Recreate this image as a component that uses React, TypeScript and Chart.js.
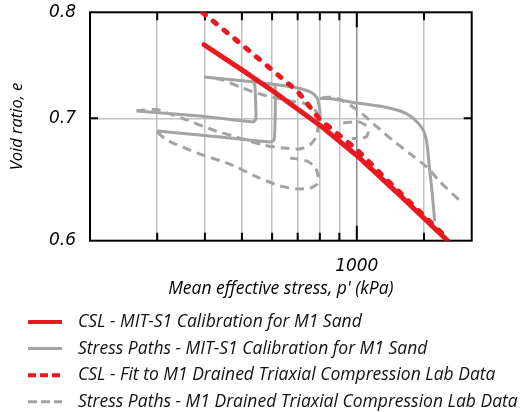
import { useEffect, useRef } from 'react';
import { Chart, registerables } from 'chart.js';

Chart.register(...registerables);

// Critical state lines (mean effective stress p' in kPa, void ratio e)
const cslModelP = [398, 500, 600, 800, 1000, 1300, 1730];
const cslModelE = [0.768, 0.744, 0.725, 0.694, 0.668, 0.635, 0.6];

const cslLabP = [394, 500, 600, 700, 800, 1000, 1170, 1680];
const cslLabE = [0.8, 0.768, 0.744, 0.724, 0.699, 0.673, 0.651, 0.605];

// MIT-S1 simulated stress paths
const modelPathAP = [265, 388, 535, 544, 541, 538];
const modelPathAE = [0.7065, 0.7021, 0.6968, 0.6994, 0.7291, 0.7319];

const modelPathBP = [300, 425, 592, 607, 611, 611, 607];
const modelPathBE = [0.6889, 0.6841, 0.6794, 0.6811, 0.6985, 0.7291, 0.7305];

const modelPathCP = [398, 465, 541, 611, 681, 732, 764, 787, 796, 801, 801];
const modelPathCE = [0.7374, 0.735, 0.7328, 0.7305, 0.7282, 0.7254, 0.7227, 0.7182, 0.7118, 0.7056, 0.6976];

const modelPathDP = [801, 867, 978, 1172, 1299, 1380, 1448, 1501, 1529, 1547, 1573, 1600];
const modelPathDE = [0.7177, 0.7173, 0.7141, 0.7103, 0.7065, 0.7021, 0.6959, 0.688, 0.6769, 0.66, 0.6396, 0.615];

// Drained triaxial compression lab stress paths
const labPathAP = [265, 300, 324, 359, 420, 494, 568, 641, 710, 754, 782, 792, 792, 768, 723, 669, 582, 535, 494, 446, 422];
const labPathAE = [0.7069, 0.7078, 0.7039, 0.6985, 0.6898, 0.6828, 0.6769, 0.6743, 0.6735, 0.6769, 0.6837, 0.6924, 0.7021, 0.7101, 0.7136, 0.7155, 0.72, 0.7236, 0.7282, 0.7346, 0.736];

const labPathBP = [300, 318, 381, 465, 548, 629, 697, 754, 787, 792, 778, 741, 669];
const labPathBE = [0.688, 0.6811, 0.6701, 0.6608, 0.6501, 0.6428, 0.6404, 0.6412, 0.6444, 0.6509, 0.6584, 0.6633, 0.6659];

const labPathCP = [811, 867, 921, 1020, 1130, 1245, 1380, 1529, 1654, 1877];
const labPathCE = [0.7182, 0.7191, 0.7155, 0.7056, 0.6924, 0.6806, 0.6693, 0.6581, 0.6461, 0.63];

const labPathDP = [921, 1008, 1051, 1071, 1061, 1031, 972];
const labPathDE = [0.6959, 0.697, 0.6942, 0.6883, 0.6841, 0.6826, 0.6824];

// Axis settings
const xMin = 200;
const xMax = 2000;
const xLabelled = [1000];
const yTicks = [0.6, 0.7, 0.8];
const yGridValues = [0.7];

const legendLabels = [
  'CSL - MIT-S1 Calibration for M1 Sand',
  'Stress Paths - MIT-S1 Calibration for M1 Sand',
  'CSL - Fit to M1 Drained Triaxial Compression Lab Data',
  'Stress Paths - M1 Drained Triaxial Compression Lab Data',
];

const RED = '#e8191f';
const GRAY = '#a3a3a3';

const styles = [
  { color: RED, width: 5, dash: [] as number[], cap: 'round' as CanvasLineCap },
  { color: GRAY, width: 3, dash: [] as number[], cap: 'butt' as CanvasLineCap },
  { color: RED, width: 5, dash: [4, 10], cap: 'round' as CanvasLineCap },
  { color: GRAY, width: 3, dash: [9, 6], cap: 'butt' as CanvasLineCap },
];

const zip = (p: number[], e: number[]) => p.map((x, i) => ({ x, y: e[i] }));

function series(p: number[], e: number[], styleIndex: number, order: number, tension = 0) {
  const s = styles[styleIndex];
  return {
    data: zip(p, e),
    showLine: true,
    borderColor: s.color,
    backgroundColor: s.color,
    borderWidth: s.width,
    borderDash: s.dash,
    borderCapStyle: s.cap,
    borderJoinStyle: 'round' as CanvasLineJoin,
    pointRadius: 0,
    pointHoverRadius: 0,
    tension,
    order,
  };
}

const framePlugin = {
  id: 'plotFrame',
  beforeDatasetsDraw(chart: any) {
    const { ctx, chartArea } = chart;
    const { left, right, top, bottom } = chartArea;
    const x = chart.scales.x;
    const y = chart.scales.y;
    ctx.save();
    ctx.strokeStyle = '#000';
    ctx.lineWidth = 2;
    ctx.strokeRect(left, top, right - left, bottom - top);
    ctx.beginPath();
    for (const t of x.ticks) {
      if (t.value <= xMin || t.value >= xMax) continue;
      const px = x.getPixelForValue(t.value);
      const len = xLabelled.includes(t.value) ? 15 : 8;
      ctx.moveTo(px, bottom);
      ctx.lineTo(px, bottom - len);
      ctx.moveTo(px, top);
      ctx.lineTo(px, top + len);
    }
    for (const v of yGridValues) {
      const py = y.getPixelForValue(v);
      ctx.moveTo(left, py);
      ctx.lineTo(left + 8, py);
      ctx.moveTo(right, py);
      ctx.lineTo(right - 8, py);
    }
    ctx.stroke();
    ctx.restore();
  },
};

const legendPlugin = {
  id: 'rowLegend',
  afterDraw(chart: any) {
    const { ctx } = chart;
    const xs = chart.scales.x;
    const base = xs.bottom + 22;
    const step = 26.6;
    ctx.save();
    ctx.font = 'italic 17.5px "Open Sans"';
    ctx.textBaseline = 'middle';
    ctx.textAlign = 'left';
    ctx.fillStyle = '#111';
    legendLabels.forEach((label, i) => {
      const s = styles[i];
      const yy = base + i * step;
      ctx.beginPath();
      ctx.strokeStyle = s.color;
      ctx.lineWidth = i % 2 === 0 ? 4 : 3;
      ctx.setLineDash(i === 2 ? [8, 4] : i === 3 ? [9, 4] : []);
      ctx.lineCap = 'butt';
      ctx.moveTo(28, yy);
      ctx.lineTo(62, yy);
      ctx.stroke();
      ctx.setLineDash([]);
      ctx.fillText(label, 78, yy);
    });
    ctx.restore();
  },
};

export default function App() {
  const ref = useRef<HTMLCanvasElement>(null);

  useEffect(() => {
    if (!ref.current) return;
    const chart = new Chart(ref.current, {
      type: 'scatter',
      data: {
        datasets: [
          series(cslModelP, cslModelE, 0, 0),
          series(cslLabP, cslLabE, 2, 1),
          series(modelPathAP, modelPathAE, 1, 2, 0.2),
          series(modelPathBP, modelPathBE, 1, 2, 0.2),
          series(modelPathCP, modelPathCE, 1, 2, 0.2),
          series(modelPathDP, modelPathDE, 1, 2, 0.2),
          series(labPathAP, labPathAE, 3, 3, 0.2),
          series(labPathBP, labPathBE, 3, 3, 0.2),
          series(labPathCP, labPathCE, 3, 3, 0.2),
          series(labPathDP, labPathDE, 3, 3, 0.2),
        ] as any,
      },
      options: {
        animation: false,
        responsive: true,
        maintainAspectRatio: false,
        layout: { padding: { left: 0, top: 12.3, right: 48.3, bottom: 112 } },
        plugins: {
          legend: { display: false },
          tooltip: { enabled: false },
        },
        scales: {
          x: {
            type: 'logarithmic',
            position: 'bottom',
            min: xMin,
            max: xMax,
            afterFit: (s: any) => {
              s.height = 59.3;
              s.paddingLeft = 0;
              s.paddingRight = 0;
            },
            border: { display: false },
            grid: {
              drawTicks: false,
              lineWidth: 1.5,
              color: (c: any) => {
                const v = c.tick?.value;
                if (v === undefined || v <= xMin || v >= xMax) return 'rgba(0,0,0,0)';
                return xLabelled.includes(v) ? '#8c8c8c' : '#c2c2c2';
              },
            },
            ticks: {
              autoSkip: false,
              maxRotation: 0,
              padding: 16,
              color: '#000',
              font: { family: 'DejaVu Sans', size: 17, style: 'italic' },
              callback: (v: any) => (xLabelled.includes(Number(v)) ? String(v) : ''),
            },
            title: {
              display: true,
              text: "Mean effective stress, p' (kPa)",
              color: '#000',
              font: { family: 'Open Sans', size: 17.5, style: 'italic' },
              padding: { top: 0, bottom: 0 },
            },
          },
          y: {
            type: 'logarithmic',
            min: 0.6,
            max: 0.8,
            afterBuildTicks: (s: any) => {
              s.ticks = yTicks.map((value) => ({ value }));
            },
            afterFit: (s: any) => {
              s.width = 90;
              s.paddingTop = 0;
              s.paddingBottom = 0;
            },
            border: { display: false },
            grid: {
              drawTicks: false,
              lineWidth: 1.5,
              color: (c: any) => (yGridValues.includes(c.tick?.value) ? '#c2c2c2' : 'rgba(0,0,0,0)'),
            },
            ticks: {
              padding: 14,
              color: '#000',
              font: { family: 'DejaVu Sans', size: 17, style: 'italic' },
              callback: (v: any) => Number(v).toFixed(1),
            },
            title: {
              display: true,
              text: 'Void ratio, e',
              color: '#000',
              font: { family: 'Open Sans', size: 16.5, style: 'italic' },
              padding: { top: 7, bottom: 0 },
            },
          },
        },
      },
      plugins: [framePlugin, legendPlugin],
    });
    return () => chart.destroy();
  }, []);

  return (
    <div style={{ position: 'absolute', left: 0, top: 0, width: 520, height: 412 }}>
      <canvas ref={ref} />
    </div>
  );
}
